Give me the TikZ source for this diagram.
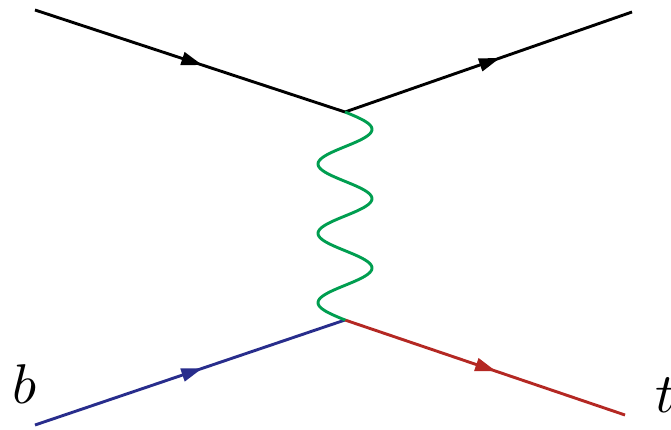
\documentclass[tikz,border=0pt]{standalone}
\usetikzlibrary{decorations.markings,arrows.meta}
\definecolor{fblue}{RGB}{40,45,140}
\definecolor{fred}{RGB}{180,40,35}
\definecolor{fgreen}{RGB}{0,158,80}
\begin{document}
\begin{tikzpicture}[x=1pt,y=-1pt,
  fermion/.style={line width=2.9pt,
    postaction={decorate},
    decoration={markings, mark=at position 0.54 with {\arrow{Triangle[length=21pt,width=13pt]}}}},
  boson/.style={line width=2.9pt, fgreen, line join=round},
  lab/.style={anchor=base west, inner sep=0pt}]
\useasboundingbox (0,0) rectangle (671,430);
\coordinate (a) at (35,10);
\coordinate (c) at (632,12);
\coordinate (v1) at (345,112);
\coordinate (v2) at (345,320);
\coordinate (bb) at (35,425);
\coordinate (tt) at (625,415);
\draw[fermion, black] (a) -- (v1);
\draw[fermion, black] (v1) -- (c);
\draw[fermion, fblue] (bb) -- (v2);
\draw[fermion, fred] (v2) -- (tt);
\draw[boson] (v1) -- plot[domain=0:208, samples=150, smooth] ({345+27*sin(\x/69.333*360)}, {112+\x}) -- (v2);
\node[lab] (lb) at (12,403) {\scalebox{5.6}{$b$}};
\node[lab] (lt) at (655,412) {\scalebox{5.6}{$t$}};
\end{tikzpicture}
\end{document}
